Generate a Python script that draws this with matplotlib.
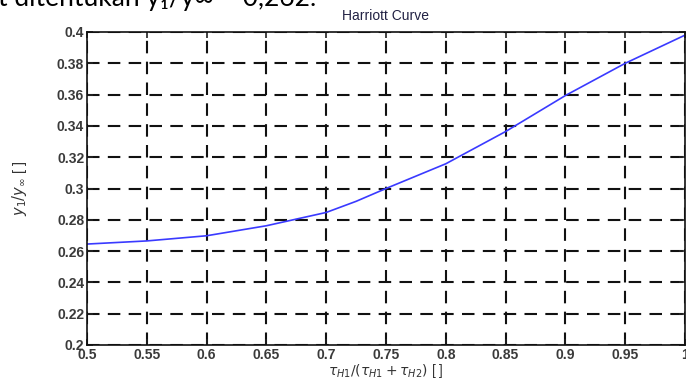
import matplotlib
matplotlib.use('Agg')
import matplotlib.pyplot as plt

# ratio tau_H1/(tau_H1+tau_H2) vs y1/y_inf
ratio = [0.5, 0.55, 0.6, 0.65, 0.7, 0.725, 0.75, 0.8, 0.85, 0.9, 0.95, 1.0]
y_ratio = [0.2645, 0.2665, 0.2698, 0.2762, 0.2847, 0.2918, 0.3000, 0.3158, 0.3364, 0.3594, 0.3800, 0.3980]

x_ticks = [0.5, 0.55, 0.6, 0.65, 0.7, 0.75, 0.8, 0.85, 0.9, 0.95, 1.0]
x_tick_labels = ['0.5', '0.55', '0.6', '0.65', '0.7', '0.75', '0.8', '0.85', '0.9', '0.95', '1']
y_ticks = [0.2, 0.22, 0.24, 0.26, 0.28, 0.3, 0.32, 0.34, 0.36, 0.38, 0.4]
y_tick_labels = ['0.2', '0.22', '0.24', '0.26', '0.28', '0.3', '0.32', '0.34', '0.36', '0.38', '0.4']

plt.rcParams['font.family'] = ['Liberation Sans', 'DejaVu Sans']

fig = plt.figure(figsize=(6.86, 3.82), dpi=100)
ax = fig.add_axes([87 / 686, 1 - 345 / 382, 598 / 686, 313 / 382])

ax.plot(ratio, y_ratio, color='#3a3aff', linewidth=1.2)

ax.set_xlim(0.5, 1.0)
ax.set_ylim(0.2, 0.4)
ax.set_xticks(x_ticks)
ax.set_xticklabels(x_tick_labels)
ax.set_yticks(y_ticks)
ax.set_yticklabels(y_tick_labels)
ax.tick_params(direction='in', length=4, width=1.2, top=True, right=True,
               labelsize=10, pad=2, colors='#222222')
for lbl in ax.get_xticklabels() + ax.get_yticklabels():
    lbl.set_fontweight('bold')
    lbl.set_color('#3a3a3a')

ax.grid(True, color='#111111', linestyle=(0, (6, 4)), linewidth=1.5)
for sp in ax.spines.values():
    sp.set_linewidth(1.2)
    sp.set_color('#111111')

ax.set_title('Harriott Curve', fontsize=10, pad=9, color='#222244')
ax.set_xlabel(r'$\tau_{H1}/(\tau_{H1}+\tau_{H2})$ [ ]', fontsize=10, labelpad=0, color='#333333')
ax.set_ylabel(r'$y_1/y_\infty$ [ ]', fontsize=10.5, labelpad=20, color='#333333')

# text from the page above the chart, cut off by the crop
fig.text(-0.003, 1 - 6 / 382, 't ditentukan y\u2081/y\u221e = 0,262.', fontsize=19,
         va='baseline', ha='left', color='black', family=['Lato', 'DejaVu Sans'])

fig.savefig('out.png', dpi=100)
